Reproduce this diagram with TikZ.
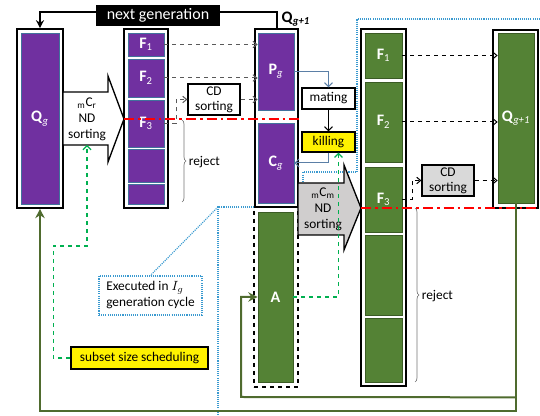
\documentclass[tikz,border=0pt]{standalone}
\usepackage{fontspec}
\setmainfont{Carlito}
\usetikzlibrary{arrows.meta,calc,decorations.pathreplacing}

\definecolor{purp}{HTML}{7030A0}
\definecolor{grn}{HTML}{548235}
\definecolor{dgrn}{HTML}{4F6B2E}
\definecolor{cellblue}{HTML}{41719C}
\definecolor{dotblue}{HTML}{3A9AD0}
\definecolor{steel}{HTML}{5B7FA6}
\definecolor{ssgreen}{HTML}{00B050}
\definecolor{lgray}{HTML}{D9D9D9}
\definecolor{mgray}{HTML}{D0CECE}

\tikzset{every picture/.style={line width=0.75pt}}
\tikzset{
  outerbox/.style={draw, line width=1.2pt, fill=white, inner sep=0pt},
  pcell/.style={draw=cellblue, line width=0.5pt, fill=purp, inner sep=0pt, text=white, font=\fontsize{12}{14}\selectfont},
  gcell/.style={draw=grn!70!black, line width=0.5pt, fill=grn, inner sep=0pt, text=white, font=\fontsize{12}{14}\selectfont},
  procbox/.style={draw, line width=0.9pt, inner sep=0pt, align=center, font=\fontsize{10}{11}\selectfont},
  lbl/.style={inner sep=1pt, font=\fontsize{10}{12}\selectfont},
  dline/.style={draw=black!65, dashed, -{Straight Barb[length=3pt,width=5pt]}},
  dlineb/.style={draw=black, dashed, -{Straight Barb[length=3pt,width=5pt]}},
  redline/.style={draw=red, line width=1.7pt, dash pattern=on 7.5pt off 3pt on 2pt off 3pt},
  gline/.style={draw=dgrn, line width=1.5pt},
  gdash/.style={draw=ssgreen, line width=0.9pt, dashed, -{Straight Barb[length=3pt,width=6pt]}},
  bdot/.style={draw=dotblue, line width=0.9pt, dash pattern=on 0.8pt off 0.8pt},
  brc/.style={decorate, decoration={brace, amplitude=3pt}, draw=black!55, line width=0.5pt},
}

\begin{document}
\begin{tikzpicture}[x=0.75pt,y=0.75pt,yscale=-1,xscale=1]
\useasboundingbox (0,0) rectangle (540,416);

% Dotted region
\draw [bdot] (540,19) -- (357,19) -- (357,172) -- (303,172) -- (303,207) -- (218,207) -- (218,416);

% Text Node
\node [outerbox, minimum width=34.5pt, minimum height=134.25pt] (Qgout) at (40,118.5) {};
\node [pcell, minimum width=28.5pt, minimum height=128.25pt] (Qg) at (40,118.5) {\textbf{Q}\textsubscript{\textit{g}}};
% Text Node
\node [outerbox, minimum width=33pt, minimum height=134.25pt] (Fout) at (146,118.5) {};
\node [pcell, minimum width=27pt, minimum height=17.25pt] (F1) at (146,44.5) {\textbf{F}\textsubscript{1}};
\node [pcell, minimum width=27pt, minimum height=28.5pt] (F2) at (146,78) {\textbf{F}\textsubscript{2}};
\node [pcell, minimum width=27pt, minimum height=35.25pt] (F3) at (146,123.5) {\textbf{F}\textsubscript{3}};
\node [pcell, minimum width=27pt, minimum height=24.75pt] (F4) at (146,165.5) {};
\node [pcell, minimum width=27pt, minimum height=15pt] (F5) at (146,194) {};
% Text Node
\node [draw, dashed, line width=1.1pt, minimum width=33pt, minimum height=135pt, inner sep=0pt] (Abox) at (276,297) {};
\node [gcell, minimum width=26.25pt, minimum height=127.5pt] (Aa) at (275.5,297) {\textbf{A}};
\node [outerbox, minimum width=32.25pt, minimum height=133.5pt] (PCout) at (276.5,118) {};
\node [pcell, minimum width=27pt, minimum height=57.75pt] (Pg) at (276,71.5) {\textbf{P}\textsubscript{\textit{g}}};
\node [pcell, minimum width=27pt, minimum height=60pt] (Cg) at (276,163) {\textbf{C}\textsubscript{\textit{g}}};
% Text Node
\node [procbox, fill=white, minimum width=39.75pt, minimum height=15.75pt] (mating) at (328.5,98.5) {mating};
\node [procbox, fill=yellow, minimum width=39.75pt, minimum height=15pt] (killing) at (328.5,142) {killing};
% Text Node
\node [outerbox, minimum width=33.75pt, minimum height=267.75pt] (RFout) at (383.5,207.5) {};
\node [gcell, minimum width=27.75pt, minimum height=33.75pt] (RF1) at (383.5,55.5) {\textbf{F}\textsubscript{1}};
\node [gcell, minimum width=27.75pt, minimum height=60pt] (RF2) at (383.5,122) {\textbf{F}\textsubscript{2}};
\node [gcell, minimum width=27.75pt, minimum height=48.75pt] (RF3) at (383.5,199.5) {\textbf{F}\textsubscript{3}};
\node [gcell, minimum width=27.75pt, minimum height=60pt] (RF4) at (383.5,275) {};
\node [gcell, minimum width=27.75pt, minimum height=48pt] (RF5) at (383.5,350) {};
% Text Node
\node [outerbox, minimum width=33.75pt, minimum height=133.5pt] (Qnout) at (515.5,119) {};
\node [gcell, minimum width=27pt, minimum height=127.5pt] (Qn) at (516,118) {\textbf{Q}\textsubscript{\textit{g+1}}};
% Text Node
\node [procbox, fill=white, minimum width=39pt, minimum height=23.25pt] (CD1) at (214,99.5) {CD\\sorting};
\node [procbox, fill=lgray, minimum width=39pt, minimum height=23.25pt] (CD2) at (448,180.5) {CD\\sorting};

% Block arrows
\draw [line width=1pt, fill=white] (63,92) -- (108,92) -- (108,76) -- (124,119) -- (108,162) -- (108,145) -- (63,145) -- cycle;
\coordinate (mCrtip) at (124,119);
\coordinate (mCrbot) at (87,145);
\node [lbl, align=center] (mCrtxt) at (87,119) {$_{\mathrm{m}}\mathrm{C}_{\mathrm{r}}$\\ND\\sorting};
\draw [line width=1pt, fill=mgray] (298,183) -- (344,183) -- (344,165) -- (361,208) -- (344,250) -- (344,235) -- (298,235) -- cycle;
\coordinate (mCmtip) at (361,208);
\node [lbl, align=center] (mCmtxt) at (323,209) {$_{\mathrm{m}}\mathrm{C}_{\mathrm{m}}$\\ND\\sorting};

% Connection
\draw [line width=1.5pt, -{Stealth[length=6pt,width=6pt]}] (PCout.north) -- ++(0,-16) -| (Qgout.north);
\node [fill=black, text=white, inner sep=0pt, minimum width=93pt, minimum height=15.75pt, font=\fontsize{12}{14}\selectfont] (nextgen) at (158,15.5) {next generation};
\node [anchor=west, inner sep=0pt, font=\fontsize{12}{14}\selectfont] (Qnlab) at (281,19) {\textbf{Q}\textsubscript{\textbf{\textit{g+1}}}};

% Connection
\draw [dline] (F1.east) -- (F1.east -| Pg.west);
\draw [dline] (F2.east) -- (F2.east -| Pg.west);
\draw [dline] (F3.east) -- ++(12,0) |- (CD1.west);
\draw [dline] (CD1.east) -- (CD1.east -| Pg.west);
\draw [dlineb] (RF1.east) -- (RF1.east -| Qn.west);
\draw [dlineb] (RF2.east) -- (RF2.east -| Qn.west);
\draw [dlineb] (RF3.east) -- ++(10,0) |- (CD2.west);
\draw [dlineb] (CD2.east) -- (CD2.east -| Qn.west);

% Connection
\draw [steel, -{Straight Barb[length=3pt,width=6pt]}] (Pg.east) -| (mating.north);
\draw [-{Straight Barb[length=3pt,width=6pt]}] (mating.south) -- (killing.north);
\draw [steel, -{Straight Barb[length=3pt,width=6pt]}] (killing.south) |- (Cg.east);

% Red cut lines
\draw [redline] (mCrtip) -- (mCrtip -| PCout.east);
\draw [redline] (mCmtip) -- (540,208);

% Braces
\draw [brc] (182,120) -- (182,202);
\node [lbl, anchor=west] (rej1) at (187,162) {reject};
\draw [brc] (415,208) -- (415,382);
\node [lbl, anchor=west] (rej2) at (420,296) {reject};

% Text Node
\node [procbox, fill=yellow, minimum width=102.75pt, minimum height=16.5pt] (sched) at (139.5,358) {subset size scheduling};
\node [lbl, draw=dotblue, line width=0.9pt, dash pattern=on 0.8pt off 0.8pt, align=left, inner sep=0pt, minimum width=77.25pt, minimum height=29.25pt] (exec) at (150.5,295.5) {Executed in $I_g$\\generation cycle};
\draw [bdot] (218,207) -- (exec.north);

% Connection
\draw [gdash] (Aa.east) -| ($(killing.south)+(10,0)$);
\draw [gdash] (sched.west) -- ++(-17,0) |- (87,246) -- (mCrbot);

% Connection
\draw [gline, -{Stealth[length=7pt,width=7pt]}] (Qn.south) -- ($(Qn.south)+(0,208)$) -| (Qgout.south);
\draw [gline, -{Stealth[length=7pt,width=7pt]}] ($(Qn.south)+(0,194)$) -- (241,397) |- (Aa.west);

\end{tikzpicture}
\end{document}
